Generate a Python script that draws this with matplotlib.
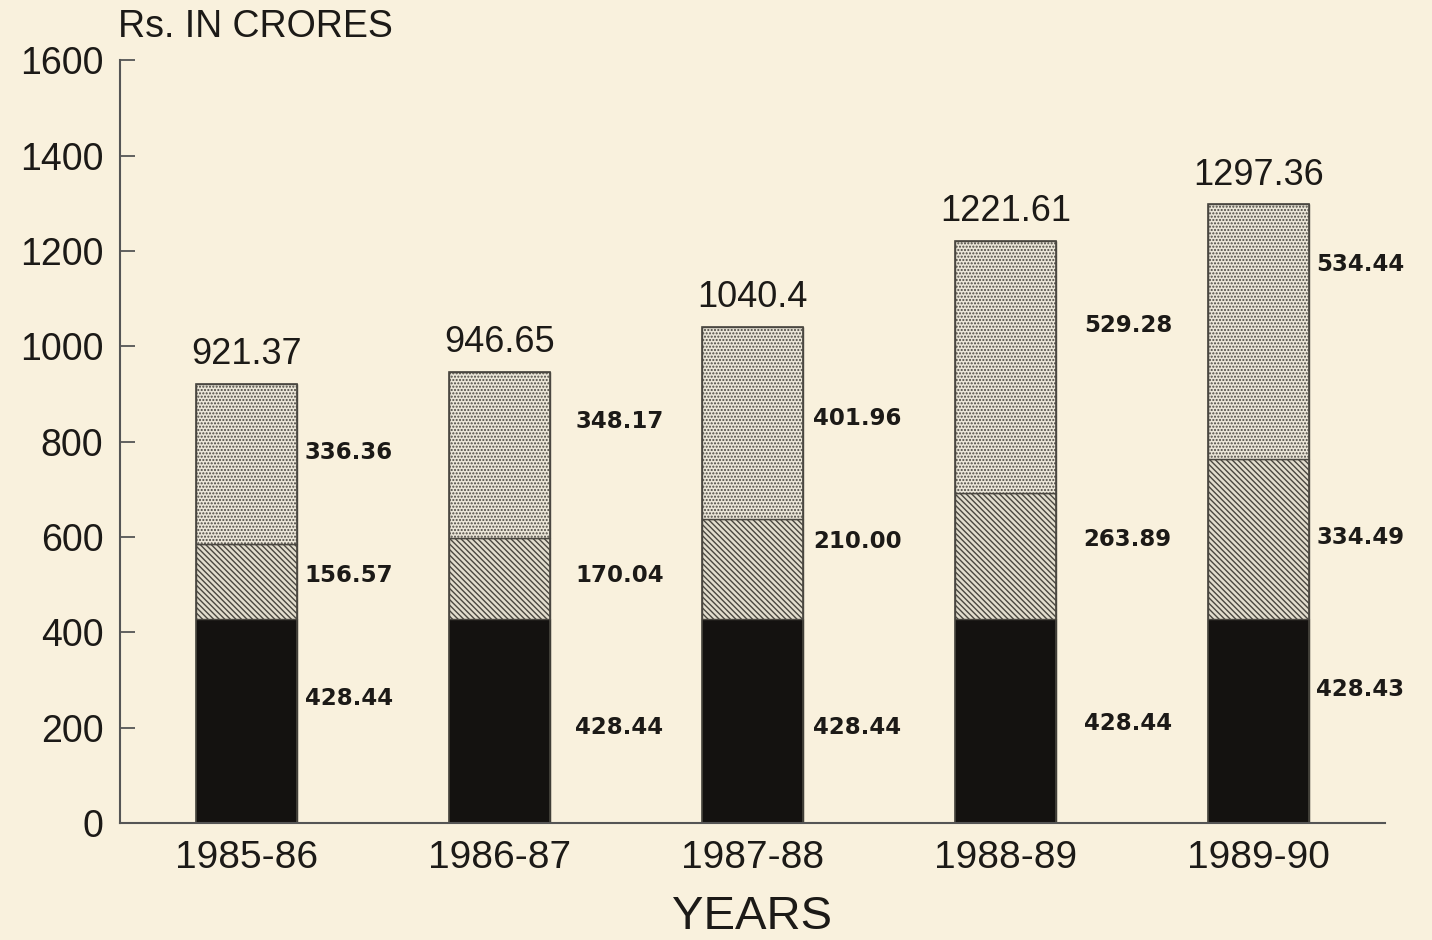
import numpy as np
import matplotlib.pyplot as plt

# data (Rs. in crores)
years = ['1985-86', '1986-87', '1987-88', '1988-89', '1989-90']
bottom_part = [428.44, 428.44, 428.44, 428.44, 428.43]
middle_part = [156.57, 170.04, 210.00, 263.89, 334.49]
top_part = [336.36, 348.17, 401.96, 529.28, 534.44]
totals = ['921.37', '946.65', '1040.4', '1221.61', '1297.36']
yticks = [0, 200, 400, 600, 800, 1000, 1200, 1400, 1600]

# where the segment labels sit (y in data units, x gap right of bar)
lab_top_y = [778, 843, 849, 1044, 1172]
lab_mid_y = [520, 520, 591, 595, 598]
lab_bot_y = [262, 201, 201, 208, 279]
lab_gap = [0.03, 0.1, 0.04, 0.11, 0.03]

bg = '#f9f1dd'
ink = '#1c1a17'
plt.rcParams['font.family'] = ['Liberation Sans', 'DejaVu Sans']
plt.rcParams['hatch.linewidth'] = 1.0

fig = plt.figure(figsize=(14.32, 9.40), dpi=100, facecolor=bg)
ax = fig.add_axes([0.0838, 0.1245, 0.8832, 0.8115])
ax.set_facecolor(bg)

x = np.arange(len(years))
w = 0.4
mid_b = np.array(bottom_part)
top_b = mid_b + np.array(middle_part)

ax.bar(x, bottom_part, w, color='#141210', edgecolor='#141210', linewidth=1)
plt.rcParams['hatch.color'] = '#5e5a52'
ax.bar(x, middle_part, w, bottom=mid_b, color='#e2ddcd', edgecolor='#4a4740',
       hatch='\\' * 6, linewidth=1)
plt.rcParams['hatch.color'] = '#cfcabc'
ax.bar(x, top_part, w, bottom=top_b, color='#ebe6d8', edgecolor='#4a4740',
       hatch='.....', linewidth=1)
# outline of whole bar
for i in range(len(x)):
    ax.bar(x[i], top_b[i] + top_part[i], w, fill=False, edgecolor='#4a4740', linewidth=1.2)

for i in range(len(x)):
    tot = top_b[i] + top_part[i]
    ax.text(x[i], tot + 25, totals[i], ha='center', va='bottom', fontsize=26, color=ink)
    xr = x[i] + w / 2 + lab_gap[i]
    for yy, v in [(lab_top_y[i], top_part[i]), (lab_mid_y[i], middle_part[i]),
                  (lab_bot_y[i], bottom_part[i])]:
        ax.text(xr, yy, '%.2f' % v, ha='left', va='center', fontsize=16.5,
                fontweight='bold', family='DejaVu Sans', color=ink)

ax.set_xlim(-0.5, 4.5)
ax.set_ylim(0, 1600)
ax.set_yticks(yticks)
ax.set_yticklabels([str(t) for t in yticks], fontsize=27, color=ink)
ax.set_xticks(x)
ax.set_xticklabels(years, fontsize=28, color=ink)
ax.tick_params(axis='y', direction='in', length=11, width=1.3, color='#555', pad=12)
ax.tick_params(axis='x', length=0, pad=12)
for s in ['top', 'right']:
    ax.spines[s].set_visible(False)
for s in ['left', 'bottom']:
    ax.spines[s].set_color('#555')
    ax.spines[s].set_linewidth(1.5)

ax.set_xlabel('YEARS', fontsize=34, color=ink, labelpad=14)
fig.text(0.0824, 0.99, 'Rs. IN CRORES', fontsize=27, color=ink, va='top', ha='left')

fig.savefig('out.png', dpi=100, facecolor=bg)
